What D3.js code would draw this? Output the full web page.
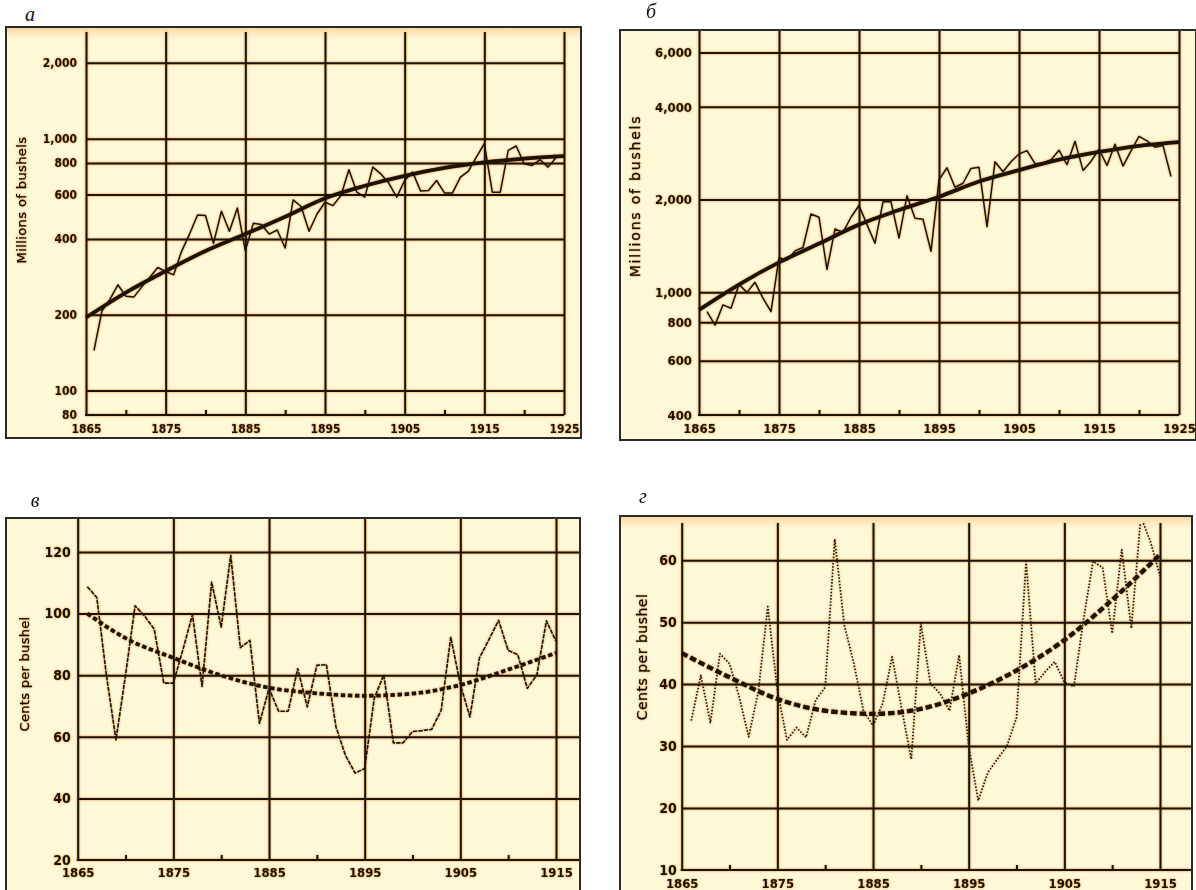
<!DOCTYPE html>
<html><head><meta charset="utf-8">
<script src="https://cdn.jsdelivr.net/npm/d3@7"></script>
<style>
html,body{margin:0;padding:0;background:#fff;}
svg{display:block;}
.lab text{font-family:"DejaVu Sans Condensed","DejaVu Sans",sans-serif;font-weight:bold;fill:#1c1208;}
.ttl{font-family:"DejaVu Sans",sans-serif;fill:#140c04;stroke:#140c04;stroke-width:0.25px;}
.let{font-family:"Liberation Serif","DejaVu Serif",serif;font-style:italic;fill:#111;font-size:20px;}
.halo{filter:drop-shadow(0px 0px 1px rgba(214,128,30,0.85));}
</style></head><body>
<svg id="chart" width="1196" height="890"></svg>
<script>
// ---------- DATA ----------
const yearsAB = [1866,1867,1868,1869,1870,1871,1872,1873,1874,1875,1876,1877,1878,1879,1880,1881,1882,1883,1884,1885,1886,1887,1888,1889,1890,1891,1892,1893,1894,1895,1896,1897,1898,1899,1900,1901,1902,1903,1904,1905,1906,1907,1908,1909,1910,1911,1912,1913,1914,1915,1916,1917,1918,1919,1920,1921,1922,1923,1924];
const prodA = [144,207,230,263,237,235,258,281,308,297,288,357,418,498,495,384,515,429,531,359,461,456,418,434,368,571,538,429,502,559,542,595,752,613,586,771,725,666,586,682,737,619,622,682,609,609,704,743,845,955,613,613,898,935,795,783,825,771,840];
const prodB = [866,783,911,888,1060,1000,1078,958,866,1296,1273,1363,1398,1797,1753,1187,1605,1565,1753,1914,1659,1444,1968,1968,1500,2060,1740,1727,1359,2317,2537,2193,2260,2525,2545,1634,2655,2462,2655,2813,2885,2615,2630,2695,2893,2595,3095,2488,2660,2914,2580,3026,2570,2880,3206,3102,2958,2998,2377];
const trendYearsAB = [1865,1870,1875,1880,1885,1890,1895,1900,1905,1910,1915,1920,1925];
const trendA = [195,245,298,358,418,490,580,650,712,765,805,833,853];
const trendB = [877,1060,1251,1440,1659,1850,2043,2290,2493,2695,2855,2990,3072];

const yearsCD = [1866,1867,1868,1869,1870,1871,1872,1873,1874,1875,1876,1877,1878,1879,1880,1881,1882,1883,1884,1885,1886,1887,1888,1889,1890,1891,1892,1893,1894,1895,1896,1897,1898,1899,1900,1901,1902,1903,1904,1905,1906,1907,1908,1909,1910,1911,1912,1913,1914,1915];
const priceC = [108.7,105.2,80,59,80,102.5,99.2,94.9,77.4,77.4,88.3,99.6,76.3,110.2,95.6,118.9,88.9,91.3,64.3,75.7,68.3,68.3,82.1,69.7,83.2,83.4,63.2,53.9,48.2,49.7,72.5,80.1,58.0,58.0,61.7,62.0,62.4,68.6,92.3,77.0,66.4,85.6,91.6,97.8,88.0,86.7,75.7,80.1,97.6,91.0];
const priceD = [34.1,41.4,33.8,44.9,43.3,38.0,31.5,38.7,52.5,39.0,31.0,33.0,31.4,37.4,39.5,63.4,49.5,43.3,35.7,33.3,36.8,44.4,36.0,27.9,49.8,40.1,38.5,35.7,44.7,30.0,21.2,25.7,27.9,30.0,34.6,59.8,40.1,42.0,43.6,40.3,39.6,50.4,59.8,58.8,48.2,61.7,49.0,67.0,63.0,57.5];
const trendYearsC = [1866,1870,1875,1880,1885,1890,1895,1900,1905,1910,1915];
const trendC = [100,92,85.6,79.9,75.9,74.1,73.3,74.0,76.8,81.8,87.2];
const trendYearsD = [1865,1870,1875,1880,1885,1890,1895,1900,1905,1910,1915];
const trendD = [45.0,41.1,37.6,35.7,35.2,36.0,38.5,42.2,47.1,53.6,60.9];

const decadesAB = [1865,1875,1885,1895,1905,1915,1925];
const minorAB = [1870,1880,1890,1900,1910,1920];
const decadesCD = [1865,1875,1885,1895,1905,1915];
const minorCD = [1870,1880,1890,1900,1910];
const gridA = [100,200,400,600,800,1000,2000];
const labelsA = [80,100,200,400,600,800,1000,2000];
const gridB = [600,800,1000,2000,4000,6000];
const labelsB = [400,600,800,1000,2000,4000,6000];
const gridC = [40,60,80,100,120];
const labelsC = [20,40,60,80,100,120];
const gridD = [20,30,40,50,60];
const labelsD = [10,20,30,40,50,60];
const titleProd = "Millions of bushels";
const titlePrice = "Cents per bushel";

// ---------- DRAWING ----------
const svg = d3.select("#chart");
const defs = svg.append("defs");
const gr = defs.append("linearGradient").attr("id","topglow").attr("x1",0).attr("y1",0).attr("x2",0).attr("y2",1);
gr.append("stop").attr("offset","0%").attr("stop-color","#f7cf98").attr("stop-opacity",1);
gr.append("stop").attr("offset","100%").attr("stop-color","#fff8d6").attr("stop-opacity",0);

const INK = "#1d1208";
const fmtComma = d3.format(",");

const panels = [
 {id:"a", letter:"а", lx:30, ly:21, frame:[6,27,575,411], glow:true,
  x:d3.scaleLinear().domain([1865,1925]).range([86,564]), gridRight:564,
  y:d3.scaleLog().domain([80,2650]).range([415,32]), top:32,
  grid:gridA, labels:labelsA, fmt:fmtComma, decades:decadesAB, minor:minorAB,
  labFont:12, labPad:9, xFont:12, xPad:9,
  title:titleProd, tx:22, ty:200, tFont:13, tSpace:0.4,
  years:yearsAB, vals:prodA, tYears:trendYearsAB, tVals:trendA,
  dataStyle:{w:1.5,dash:null}, trendStyle:{w:3.8,dash:null}},
 {id:"b", letter:"б", lx:651, ly:18, frame:[620,30,576,410], glow:false,
  x:d3.scaleLinear().domain([1865,1925]).range([699,1179]), gridRight:1179,
  y:d3.scaleLog().domain([400,7050]).range([415,31]), top:31,
  grid:gridB, labels:labelsB, fmt:fmtComma, decades:decadesAB, minor:minorAB,
  labFont:13, labPad:7, xFont:13, xPad:9,
  title:titleProd, tx:636, ty:196, tFont:14, tSpace:1.8,
  years:yearsAB, vals:prodB, tYears:trendYearsAB, tVals:trendB,
  dataStyle:{w:1.5,dash:null}, trendStyle:{w:3.8,dash:null}},
 {id:"c", letter:"в", lx:35, ly:507, frame:[6,518,574,390], glow:false,
  x:d3.scaleLinear().domain([1865,1915]).range([77.7,556]), gridRight:579,
  y:d3.scaleLinear().domain([20,131]).range([860,518]), top:519,
  grid:gridC, labels:labelsC, fmt:d3.format("d"), decades:decadesCD, minor:minorCD,
  labFont:14, labPad:7, xFont:13, xPad:8,
  title:titlePrice, tx:25, ty:674, tFont:13, tSpace:0.3,
  years:yearsCD, vals:priceC, tYears:trendYearsC, tVals:trendC,
  dataStyle:{w:1.6,dash:"4.5,1"}, trendStyle:{w:3.8,dash:"4.5,2.6"}},
 {id:"d", letter:"г", lx:643, ly:503, frame:[620,516,572,390], glow:true,
  x:d3.scaleLinear().domain([1865,1915]).range([681.7,1160]), gridRight:1191,
  y:d3.scaleLinear().domain([10,66]).range([870,523]), top:523,
  grid:gridD, labels:labelsD, fmt:d3.format("d"), decades:decadesCD, minor:minorCD,
  labFont:14, labPad:5, xFont:13, xPad:9,
  title:titlePrice, tx:643, ty:657, tFont:14, tSpace:0.5,
  years:yearsCD, vals:priceD, tYears:trendYearsD, tVals:trendD,
  dataStyle:{w:1.7,dash:"1.5,1.7"}, trendStyle:{w:4.4,dash:"6.5,3"}}
];

panels.forEach(p => {
  const [fx,fy,fw,fh] = p.frame;
  svg.append("text").attr("class","let").attr("x",p.lx).attr("y",p.ly)
     .attr("text-anchor","middle").text(p.letter);
  svg.append("rect").attr("x",fx).attr("y",fy).attr("width",fw).attr("height",fh)
     .attr("fill","#fff8d6");
  if (p.glow) {
    svg.append("rect").attr("x",fx).attr("y",fy).attr("width",fw).attr("height",16)
       .attr("fill","url(#topglow)");
  }
  const g = svg.append("g").attr("class","halo");
  const x = p.x, y = p.y;
  const axisY = y.range()[0];
  const x0 = x.range()[0];

  const vg = g.append("g").attr("transform",`translate(0,${axisY})`)
    .call(d3.axisBottom(x).tickValues(p.decades).tickSize(-(axisY - p.top)).tickFormat(""));
  vg.select(".domain").remove();
  vg.selectAll("line").attr("stroke",INK).attr("stroke-width",2);

  const hg = g.append("g").attr("transform",`translate(${x0},0)`)
    .call(d3.axisLeft(y).tickValues(p.grid).tickSize(-(p.gridRight - x0)).tickFormat(""));
  hg.select(".domain").remove();
  hg.selectAll("line").attr("stroke",INK).attr("stroke-width",2);

  const mg = g.append("g").attr("transform",`translate(0,${axisY})`)
    .call(d3.axisBottom(x).tickValues(p.minor).tickSize(-5).tickFormat(""));
  mg.select(".domain").remove();
  mg.selectAll("line").attr("stroke",INK).attr("stroke-width",2);
  g.append("line").attr("x1",x0-1).attr("x2",p.gridRight).attr("y1",axisY).attr("y2",axisY)
    .attr("stroke",INK).attr("stroke-width",2.2);

  const yl = g.append("g").attr("class","lab").attr("transform",`translate(${x0},0)`)
    .call(d3.axisLeft(y).tickValues(p.labels).tickSize(0).tickPadding(p.labPad).tickFormat(p.fmt));
  yl.select(".domain").remove();
  yl.attr("font-size",p.labFont).attr("font-family",null);

  const xl = g.append("g").attr("class","lab").attr("transform",`translate(0,${axisY})`)
    .call(d3.axisBottom(x).tickValues(p.decades).tickSize(0).tickPadding(p.xPad).tickFormat(d3.format("d")));
  xl.select(".domain").remove();
  xl.attr("font-size",p.xFont).attr("font-family",null);

  g.append("text").attr("class","ttl")
    .attr("transform",`translate(${p.tx},${p.ty}) rotate(-90)`)
    .attr("text-anchor","middle").attr("dominant-baseline","middle")
    .attr("font-size",p.tFont).attr("letter-spacing",p.tSpace).text(p.title);

  const cid = "clip-" + p.id;
  defs.append("clipPath").attr("id",cid).append("rect")
    .attr("x",fx+1).attr("y",p.top).attr("width",fw-2).attr("height",axisY - p.top);

  const dataG = g.append("g").attr("clip-path",`url(#${cid})`);
  const line = d3.line().x(d => x(d[0])).y(d => y(d[1]));
  const dataPts = p.years.map((yr,i) => [yr, p.vals[i]]);
  dataG.append("path").datum(dataPts).attr("d",line)
    .attr("fill","none").attr("stroke",INK).attr("stroke-width",p.dataStyle.w)
    .attr("stroke-linejoin","round")
    .attr("stroke-dasharray",p.dataStyle.dash);
  const tline = d3.line().x(d => x(d[0])).y(d => y(d[1])).curve(d3.curveMonotoneX);
  const tPts = p.tYears.map((yr,i) => [yr, p.tVals[i]]);
  dataG.append("path").datum(tPts).attr("d",tline)
    .attr("fill","none").attr("stroke",INK).attr("stroke-width",p.trendStyle.w)
    .attr("stroke-dasharray",p.trendStyle.dash);

  svg.append("rect").attr("x",fx).attr("y",fy).attr("width",fw).attr("height",fh)
     .attr("fill","none").attr("stroke","#2b2b2b").attr("stroke-width",2);
});
</script>
</body></html>
